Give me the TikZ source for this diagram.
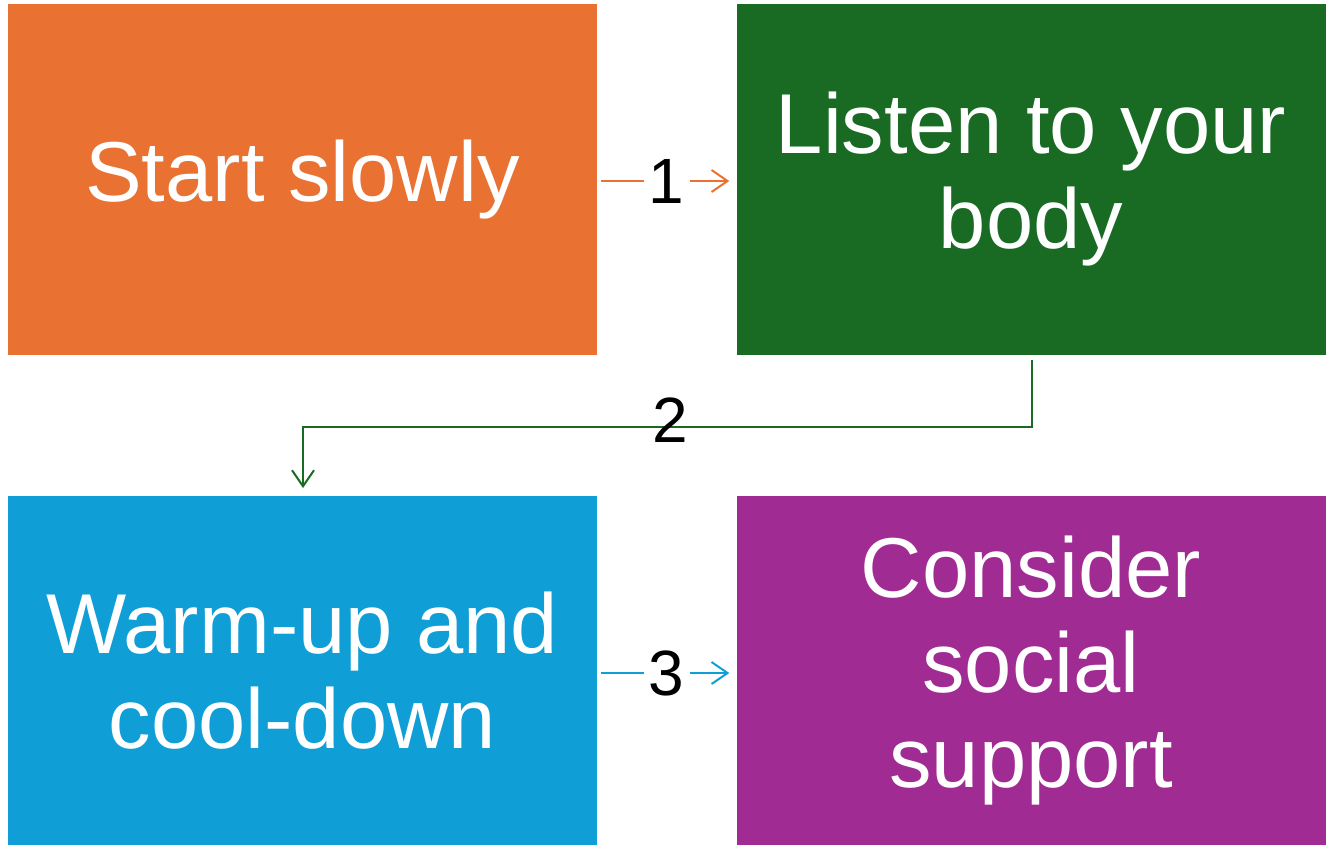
\documentclass[tikz,border=0pt]{standalone}
\usepackage{fontspec}
\setmainfont{Liberation Sans}
\usetikzlibrary{arrows.meta}
\definecolor{corange}{HTML}{E97132}
\definecolor{cgreen}{HTML}{196B24}
\definecolor{cblue}{HTML}{0F9ED5}
\definecolor{cpurple}{HTML}{A02B93}
\tikzset{
  stepbox/.style={rectangle, minimum width=589pt, inner sep=0pt, text=white, align=center,
    font=\fontsize{85}{95}\selectfont},
  conn/.style={line width=2pt, -{Straight Barb[length=16pt,width=22pt,line width=2pt]}},
  numlabel/.style={font=\fontsize{64}{70}\selectfont, text=black, inner sep=3pt},
  gaplabel/.style={numlabel, fill=white, inner xsep=5pt}
}
\begin{document}
\begin{tikzpicture}[x=1pt,y=-1pt]
\useasboundingbox (0,0) rectangle (1332,846);
\node[stepbox, fill=corange, minimum height=351pt] (o) at (302.5,179.5) {Start slowly};
\node[stepbox, fill=cgreen, minimum height=351pt] (g) at (1031,179.5) {Listen to your\\body};
\node[stepbox, fill=cblue, minimum height=349pt] (b) at (302.5,670.5) {Warm-up and\\cool-down};
\node[stepbox, fill=cpurple, minimum height=349pt] (p) at (1031,670.5) {\raisebox{-4pt}{\parbox{500pt}{\centering Consider\\social\\support}}};
\coordinate (g1) at (1032,355);
\coordinate (b1) at (303,496);
\draw[conn, draw=corange, shorten <=4pt, shorten >=7pt] ([yshift=-1.5pt]o.east) -- node[gaplabel] {1} ([yshift=-1.5pt]g.west);
\draw[conn, draw=cgreen, shorten <=5pt, shorten >=8pt] (g1) -- (1032,427) -- (303,427) -- (b1);
\node[numlabel] (l2) at (670,420) {2};
\draw[conn, draw=cblue, shorten <=4pt, shorten >=7pt] ([yshift=-2.5pt]b.east) -- node[gaplabel] {3} ([yshift=-2.5pt]p.west);
\end{tikzpicture}
\end{document}
